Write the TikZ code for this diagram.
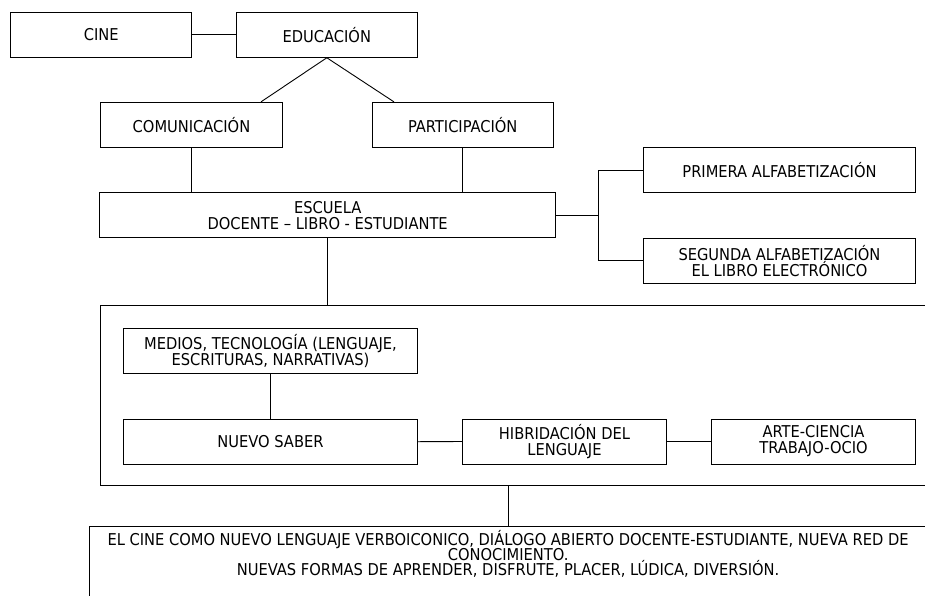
\documentclass[tikz,border=0pt]{standalone}
\usepackage{fontspec}
\usetikzlibrary{calc}
\setmainfont{DejaVu Sans Condensed}
\newcommand\boxfont{\fontsize{16.3}{16}\selectfont\lineskiplimit=-30pt\lineskip=0pt\relax}
\newcommand\finfont{\fontsize{16.3}{15}\selectfont\lineskiplimit=-30pt\lineskip=0pt\relax}
\begin{document}
\begin{tikzpicture}[x=1pt,y=-1pt,
  box/.style={draw, line width=0.9pt, inner sep=0pt, align=center,
    font=\boxfont, minimum height=45pt},
  conn/.style={line width=0.9pt}]
\useasboundingbox (0,0) rectangle (925,595);
\clip (0,0) rectangle (925,595);
% top row
\node[box, minimum width=181pt] (cine) at (101.2,34.8) {CINE};
\node[box, minimum width=181pt] (educ) at (326.8,34.8) {EDUCACIÓN};
\node[box, minimum width=181.6pt] (comu) at (191.5,124.8) {COMUNICACIÓN};
\node[box, minimum width=181pt] (part) at (462.8,124.8) {PARTICIPACIÓN};
\node[box, minimum width=456pt] (escuela) at (327.7,215.2) {ESCUELA\\DOCENTE – LIBRO - ESTUDIANTE};
\node[box, minimum width=271.6pt] (prim) at (779.5,170.2) {PRIMERA ALFABETIZACIÓN};
\node[box, minimum width=271.6pt] (seg) at (779.5,260.8) {SEGUNDA ALFABETIZACIÓN\\EL LIBRO ELECTRÓNICO};
% big frame
\node[box, minimum width=834.3pt, minimum height=179.9pt] (big) at (517.85,395.65) {};
\node[box, minimum width=294.4pt] (medios) at (270.5,350.8) {MEDIOS, TECNOLOGÍA (LENGUAJE,\\ESCRITURAS, NARRATIVAS)};
\node[box, minimum width=294.4pt, minimum height=44.7pt] (nuevo) at (270.5,441.7) {NUEVO SABER};
\node[box, minimum width=204.4pt] (hibr) at (564.5,441.5) {HIBRIDACIÓN DEL\\LENGUAJE};
\node[box, minimum width=203.6pt] (arte) at (813.5,441.5) {ARTE-CIENCIA\\TRABAJO-OCIO};
% final
\node[box, font=\finfont, anchor=north, minimum width=837.7pt, minimum height=0pt, inner ysep=4pt, text depth=50pt] (fin) at (508.15,526)
  {EL CINE COMO NUEVO LENGUAJE VERBOICONICO, DIÁLOGO ABIERTO DOCENTE-ESTUDIANTE, NUEVA RED DE\\CONOCIMIENTO.\\NUEVAS FORMAS DE APRENDER, DISFRUTE, PLACER, LÚDICA, DIVERSIÓN.};
% connectors
\draw[conn] (cine.east) -- (educ.west);
\draw[conn] (educ.south) -- ($(comu.north west)!0.881!(comu.north east)$);
\draw[conn] (educ.south) -- ($(part.north west)!0.1215!(part.north east)$);
\draw[conn] (comu.south) -- (comu.south |- escuela.north);
\draw[conn] (part.south) -- (part.south |- escuela.north);
\coordinate (br) at (598.3,215.2);
\draw[conn] (escuela.east) -- (br);
\draw[conn] (prim.west) -| (br) |- (seg.west);
\draw[conn] (escuela.south) -- (escuela.south |- big.north);
\draw[conn] (medios.south) -- (nuevo.north);
\draw[conn] (nuevo.east) -- (hibr.west);
\draw[conn] (hibr.east) -- (arte.west);
\draw[conn] (fin.north |- big.south) -- (fin.north);
\end{tikzpicture}
\end{document}
